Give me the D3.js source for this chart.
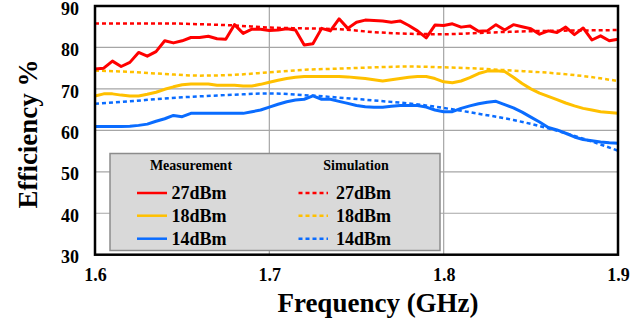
<!DOCTYPE html>
<html>
<head>
<meta charset="utf-8">
<script src="https://cdn.jsdelivr.net/npm/d3@7"></script>
<style>
  html, body { margin: 0; padding: 0; background: #fff; }
  svg { display: block; font-family: "Liberation Serif", "Times New Roman", serif; font-weight: bold; }
</style>
</head>
<body>
<svg id="chart" width="644" height="321"></svg>
<script>
// Measured frequency grid (GHz)
const freqMeas = [
  1.600, 1.605, 1.610, 1.615, 1.620, 1.625, 1.630, 1.635, 1.640, 1.645,
  1.650, 1.655, 1.660, 1.665, 1.670, 1.675, 1.680, 1.685, 1.690, 1.695,
  1.700, 1.705, 1.710, 1.715, 1.720, 1.725, 1.730, 1.735, 1.740, 1.745,
  1.750, 1.755, 1.760, 1.765, 1.770, 1.775, 1.780, 1.785, 1.790, 1.795,
  1.800, 1.805, 1.810, 1.815, 1.820, 1.825, 1.830, 1.835, 1.840, 1.845,
  1.850, 1.855, 1.860, 1.865, 1.870, 1.875, 1.880, 1.885, 1.890, 1.895,
  1.900
];
// Measured efficiency (%)
const meas27 = [
  74.8, 75.0, 76.7, 75.4, 76.4, 78.8, 77.9, 79.0, 81.6, 81.1,
  81.6, 82.4, 82.4, 82.7, 82.1, 82.0, 85.5, 83.4, 84.4, 84.4,
  84.1, 84.2, 84.5, 84.2, 80.6, 80.9, 84.6, 84.0, 86.9, 84.6,
  86.1, 86.6, 86.5, 86.4, 86.1, 86.4, 85.3, 84.0, 82.3, 85.4,
  85.3, 85.7, 84.9, 85.2, 83.9, 84.0, 85.5, 84.2, 85.5, 85.0,
  84.5, 83.2, 84.0, 83.6, 84.9, 83.1, 84.7, 81.8, 82.8, 81.6,
  82.0
];
const meas18 = [
  68.3, 68.8, 68.8, 68.5, 68.3, 68.3, 68.7, 69.2, 69.9, 70.5,
  71.0, 71.2, 71.2, 71.2, 70.9, 70.9, 70.9, 70.7, 70.7, 71.1,
  71.6, 72.1, 72.5, 72.8, 73.0, 73.0, 73.0, 73.0, 73.0, 72.9,
  72.7, 72.5, 72.2, 71.9, 72.2, 72.5, 72.8, 73.0, 73.0, 72.5,
  71.7, 71.5, 71.9, 72.7, 73.7, 74.3, 74.4, 74.2, 72.8, 71.3,
  70.0, 69.0, 68.2, 67.4, 66.6, 65.9, 65.3, 64.9, 64.5, 64.3,
  64.1
];
const meas14 = [
  60.9, 60.9, 60.9, 60.9, 61.0, 61.2, 61.5, 62.2, 62.8, 63.6,
  63.3, 64.1, 64.1, 64.1, 64.1, 64.1, 64.1, 64.1, 64.5, 64.9,
  65.6, 66.3, 66.9, 67.3, 67.5, 68.3, 67.5, 67.5, 67.0, 66.5,
  66.0, 65.7, 65.6, 65.6, 65.8, 66.0, 66.0, 66.0, 65.6, 64.9,
  64.5, 64.5, 65.3, 65.9, 66.4, 66.8, 67.0, 66.2, 65.4, 64.4,
  63.2, 62.0, 60.7, 60.1, 59.3, 58.4, 57.8, 57.5, 57.2, 57.0,
  56.9
];

// Simulated frequency grid (GHz) and efficiency (%)
const freqSim = [1.60, 1.62, 1.64, 1.66, 1.68, 1.70, 1.72, 1.74, 1.76, 1.78, 1.80, 1.82, 1.84, 1.86, 1.88, 1.90];
const sim27 = [85.8, 85.8, 85.8, 85.6, 85.3, 84.8, 84.6, 84.4, 83.7, 83.3, 83.2, 83.5, 83.8, 84.0, 84.1, 84.2];
const sim18 = [74.4, 74.1, 73.6, 73.2, 73.4, 74.0, 74.6, 74.9, 75.2, 75.4, 75.2, 74.9, 74.4, 73.9, 73.1, 71.9];
const sim14 = [66.4, 67.0, 67.7, 68.2, 68.6, 68.9, 68.5, 67.9, 67.2, 66.5, 65.4, 64.0, 62.5, 60.5, 58.0, 55.1];

// Axis ticks and legend labels
const xTicks = [1.6, 1.7, 1.8, 1.9];
const yTicks = [30, 40, 50, 60, 70, 80, 90];
const powerLabels = ["27dBm", "18dBm", "14dBm"];
const seriesColors = ["#ff0000", "#ffc000", "#0a6cff"];

const svg = d3.select("#chart");
const plot = { left: 95, top: 6, right: 618, bottom: 254.7 };

const x = d3.scaleLinear().domain([1.6, 1.9]).range([plot.left, plot.right]);
const y = d3.scaleLinear().domain([30, 90]).range([plot.bottom, plot.top]);

// Grid lines
const grid = svg.append("g");
grid.selectAll("line.h").data(yTicks.slice(1, -1)).join("line")
  .attr("x1", plot.left).attr("x2", plot.right)
  .attr("y1", d => y(d)).attr("y2", d => y(d))
  .attr("stroke", "#a6a6a6").attr("stroke-width", 1.2);
grid.selectAll("line.v").data(xTicks.slice(1, -1)).join("line")
  .attr("y1", plot.top).attr("y2", plot.bottom)
  .attr("x1", d => x(d)).attr("x2", d => x(d))
  .attr("stroke", "#a6a6a6").attr("stroke-width", 1.2);

// Curves
const measLine = d3.line().x(d => x(d[0])).y(d => y(d[1]));
const simLine = d3.line().x(d => x(d[0])).y(d => y(d[1])).curve(d3.curveMonotoneX);

const measSeries = [meas27, meas18, meas14];
const simSeries = [sim27, sim18, sim14];

simSeries.forEach((vals, i) => {
  svg.append("path")
    .datum(freqSim.map((f, j) => [f, vals[j]]))
    .attr("d", simLine)
    .attr("fill", "none")
    .attr("stroke", seriesColors[i])
    .attr("stroke-width", 2.5)
    .attr("stroke-dasharray", "4,3");
});
measSeries.forEach((vals, i) => {
  svg.append("path")
    .datum(freqMeas.map((f, j) => [f, vals[j]]))
    .attr("d", measLine)
    .attr("fill", "none")
    .attr("stroke", seriesColors[i])
    .attr("stroke-width", 3)
    .attr("stroke-linejoin", "round");
});

// Legend
const legend = svg.append("g");
legend.append("rect")
  .attr("x", 110).attr("y", 153.5).attr("width", 330).attr("height", 97)
  .attr("fill", "#d9d9d9").attr("stroke", "#8c8c8c").attr("stroke-width", 1.5);
legend.append("text").attr("x", 191).attr("y", 169.5).attr("text-anchor", "middle")
  .attr("font-size", 14).text("Measurement");
legend.append("text").attr("x", 356).attr("y", 169.5).attr("text-anchor", "middle")
  .attr("font-size", 14).text("Simulation");
const rowY = [193, 215.7, 238.7];
powerLabels.forEach((lab, i) => {
  legend.append("line")
    .attr("x1", 137).attr("x2", 167).attr("y1", rowY[i]).attr("y2", rowY[i])
    .attr("stroke", seriesColors[i]).attr("stroke-width", 2.5);
  legend.append("text").attr("x", 171.5).attr("y", rowY[i] + 6)
    .attr("font-size", 18).text(lab);
  legend.append("line")
    .attr("x1", 298.5).attr("x2", 328).attr("y1", rowY[i]).attr("y2", rowY[i])
    .attr("stroke", seriesColors[i]).attr("stroke-width", 2.5)
    .attr("stroke-dasharray", "4,3");
  legend.append("text").attr("x", 336).attr("y", rowY[i] + 6)
    .attr("font-size", 18).text(lab);
});

// Plot frame
svg.append("rect")
  .attr("x", plot.left).attr("y", plot.top)
  .attr("width", plot.right - plot.left).attr("height", plot.bottom - plot.top)
  .attr("fill", "none").attr("stroke", "#000").attr("stroke-width", 2.5);

// Axes
const xAxis = svg.append("g").attr("transform", `translate(0,${plot.bottom})`)
  .call(d3.axisBottom(x).tickValues(xTicks).tickFormat(d3.format(".1f")).tickSize(0).tickPadding(14));
const yAxis = svg.append("g").attr("transform", `translate(${plot.left},0)`)
  .call(d3.axisLeft(y).tickValues(yTicks).tickFormat(d3.format("d")).tickSize(0).tickPadding(16));
[xAxis, yAxis].forEach(a => {
  a.select(".domain").remove();
  a.selectAll("text").attr("font-size", 18).attr("font-family", "Liberation Serif, Times New Roman, serif")
    .attr("font-weight", "bold").attr("fill", "#000");
});
yAxis.selectAll("text").attr("dy", "0.45em");

// Axis titles
svg.append("text").attr("x", 378).attr("y", 311.5).attr("text-anchor", "middle")
  .attr("font-size", 27).text("Frequency (GHz)");
svg.append("text").attr("transform", "translate(37,134) rotate(-90)").attr("text-anchor", "middle")
  .attr("font-size", 27).text("Efficiency %");
</script>
</body>
</html>
